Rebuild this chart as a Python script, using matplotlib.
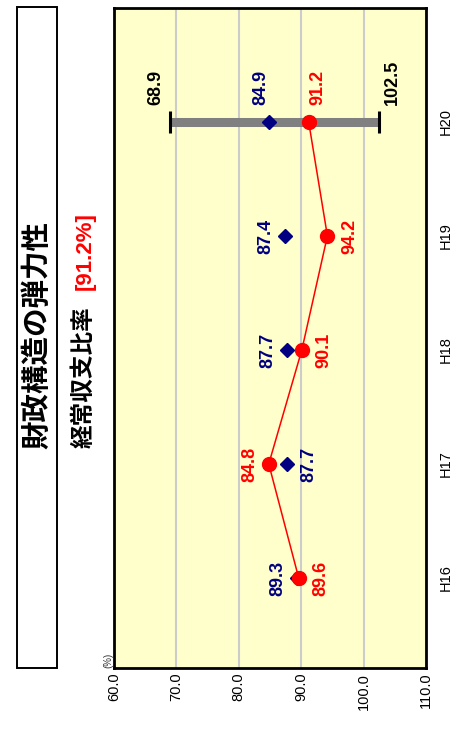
import matplotlib
matplotlib.use("Agg")
import matplotlib.pyplot as plt
from matplotlib.patches import Rectangle

# data (the chart is drawn turned on its side)
years = ["H16", "H17", "H18", "H19", "H20"]
ratio = [89.6, 84.8, 90.1, 94.2, 91.2]      # 経常収支比率 (red line)
average = [89.3, 87.7, 87.7, 87.4, 84.9]    # blue diamonds
range_low = 68.9                            # H20 min of the grey bar
range_high = 102.5                          # H20 max of the grey bar
value_ticks = [60, 70, 80, 90, 100, 110]
title = "財政構造の弾力性"
subtitle = "経常収支比率"
current = "[91.2%]"

W, H = 473, 746
LABEL_FONT = ["Liberation Sans Narrow", "Liberation Sans", "DejaVu Sans"]
JP_FONT = ["Noto Sans CJK JP", "DejaVu Sans"]
plt.rcParams["font.family"] = ["Liberation Sans", "DejaVu Sans"]


def fx(x):
    return x / W


def fy(y):
    return 1 - y / H


fig = plt.figure(figsize=(W / 100, H / 100), dpi=100)
fig.patch.set_facecolor("white")

# title box on the left
fig.patches.append(Rectangle((fx(17), fy(668)), 40 / W, 661 / H, transform=fig.transFigure,
                             facecolor="white", edgecolor="black", lw=1.4))
fig.text(fx(37), fy(335), title, rotation=90, ha="center", va="center",
         fontsize=20.5, fontweight="bold", family=JP_FONT)
fig.text(fx(84), fy(448), subtitle, rotation=90, rotation_mode="anchor", ha="left", va="center",
         fontsize=17, fontweight="bold", family=JP_FONT)
fig.text(fx(85), fy(290), current, rotation=90, rotation_mode="anchor", ha="left", va="center",
         fontsize=16, fontweight="bold", color="red")
fig.text(fx(108), fy(660), "(%)", rotation=90, ha="center", va="center", fontsize=7, color="#333333")

ax = fig.add_axes([fx(114), fy(668), 312 / W, 660 / H])
ax.set_facecolor("#FFFFCC")
ax.set_xlim(60, 110)
ax.set_ylim(-0.79, 5.0)
ax.set_xticks(value_ticks, [f"{v:.1f}" for v in value_ticks], rotation=90)
ax.tick_params(axis="x", length=0, pad=3.5, labelsize=10.5)
ax.set_yticks(range(len(years)), years, rotation=90, va="center")
ax.tick_params(axis="y", length=0, left=False, labelleft=False, labelright=True, pad=9, labelsize=10.5)
ax.grid(axis="x", color="#CCCCCC", lw=1.5)
ax.set_axisbelow(True)
for sp in ax.spines.values():
    sp.set_linewidth(2)
    sp.set_color("black")

ys = list(range(len(years)))
last = ys[-1]
ax.plot([range_low, range_high], [last, last], color="#808080", lw=6.5, solid_capstyle="butt", zorder=3)
ax.plot([range_low, range_high], [last, last], ls="none", marker="|", ms=16.5, mew=2.2,
        color="black", zorder=3)
ax.plot(average, ys, ls="none", marker="D", ms=7.5, color="#000080", zorder=4)
ax.plot(ratio, ys, color="red", lw=1.1, marker="o", ms=10, zorder=5)


def label(v, y, dx, dy, color, va="center"):
    ax.annotate(f"{v:.1f}", (v, y), xytext=(dx, dy), textcoords="offset pixels",
                rotation=90, ha="center", va=va, fontsize=13, fontweight="bold",
                color=color, family=LABEL_FONT, zorder=6)


for i in ys[:-1]:
    if ratio[i] < average[i]:
        label(ratio[i], i, -19, 0, "red")
        label(average[i], i, 22, 0, "#000080")
    else:
        label(average[i], i, -19, 0, "#000080")
        label(ratio[i], i, 22, 0, "red")

label(average[last], last, -9, 17, "#000080", va="bottom")
label(ratio[last], last, 9, 17, "red", va="bottom")
label(range_low, last, -13.5, 17, "black", va="bottom")
label(range_high, last, 13, 17, "black", va="bottom")

fig.savefig("out.png", dpi=100)
